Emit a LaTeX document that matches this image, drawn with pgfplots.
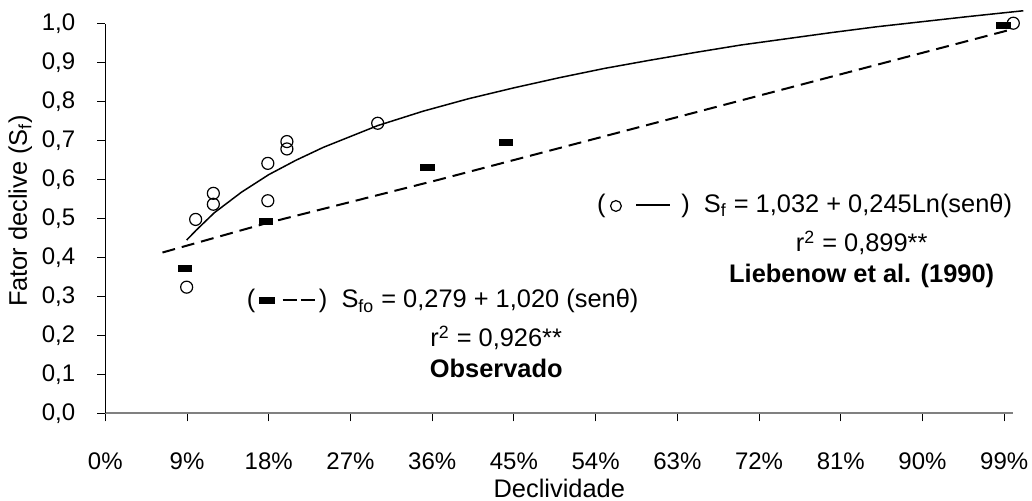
\documentclass[border=0pt]{standalone}
\usepackage{fontspec}
\setmainfont{Liberation Sans}
\usepackage{pgfplots}
\pgfplotsset{compat=1.18}

\pgfdeclareplotmark{hbar}{%
  \pgfpathrectangle{\pgfpoint{-3.6pt}{-1.75pt}}{\pgfpoint{7.2pt}{3.5pt}}%
  \pgfusepathqfill}

\newcommand{\lmark}{\tikz[baseline=-3.2pt]\draw[line width=0.6pt] (0,0) circle (2.7pt);}

\begin{document}
\begin{tikzpicture}[font=\fontsize{12.7}{15}\selectfont]
\begin{axis}[
    name=ax,
    scale only axis,
    width=454pt, height=194.65pt,
    xmin=0, xmax=1, ymin=0, ymax=1,
    axis lines=left,
    x axis line style={-, draw=gray, line width=0.8pt},
    y axis line style={-, draw=black, line width=0.6pt},
    tick align=outside,
    major tick length=4pt,
    tick style={black, line width=0.5pt},
    clip=false,
    xtick={0,0.09,0.18,0.27,0.36,0.45,0.54,0.63,0.72,0.81,0.9,0.99},
    xticklabels={0\%,9\%,18\%,27\%,36\%,45\%,54\%,63\%,72\%,81\%,90\%,99\%},
    ytick={0,0.1,...,1.0},
    /pgf/number format/assume math mode=true,
    tick label style={font=\fontsize{12}{14}\selectfont},
    xticklabel style={yshift=-12pt},
    yticklabel style={xshift=-7.5pt, /pgf/number format/.cd, fixed, fixed zerofill, precision=1, use comma},
    xlabel={Declividade},
    ylabel={Fator declive (S\textsubscript{f})},
    label style={font=\fontsize{12.7}{15}\selectfont},
    xlabel style={at={(axis description cs:0.5,-0.192)}, anchor=center, inner sep=0pt},
    ylabel style={at={(axis description cs:-0.0936,0.52)}, anchor=center, inner sep=0pt},
]

% ajuste observado (tracejado)
\addplot[black, line width=1pt, dash pattern=on 6.5pt off 3.5pt] coordinates {
    (0.063,0.413) (0.177,0.488) (0.369,0.601) (0.699,0.803) (0.998,0.986)
};

% ajuste Liebenow (continuo)
\addplot[black, line width=0.75pt] coordinates {
    (0.0896,0.445) (0.10,0.470) (0.12,0.515) (0.15,0.568) (0.18,0.613)
    (0.21,0.650) (0.24,0.683) (0.27,0.711) (0.30,0.739) (0.35,0.776)
    (0.40,0.808) (0.45,0.836) (0.50,0.862) (0.55,0.886) (0.60,0.907)
    (0.65,0.927) (0.70,0.946) (0.75,0.962) (0.80,0.978) (0.85,0.993)
    (0.90,1.006) (0.95,1.019) (1.011,1.034)
};

% Observado
\addplot[only marks, mark=hbar, black] coordinates {
    (0.088,0.373) (0.177,0.493) (0.355,0.632) (0.441,0.696) (0.989,0.997)
};

% Liebenow et al. (1990)
\addplot[only marks, mark=o, mark size=3pt, mark options={line width=0.6pt}, black] coordinates {
    (0.0896,0.324) (0.0995,0.498) (0.119,0.537) (0.119,0.565) (0.179,0.546)
    (0.179,0.642) (0.200,0.679) (0.200,0.698) (0.300,0.745) (1.000,1.002)
};

\node[anchor=west] at (axis cs:0.534,0.533)
  {(\,\lmark\ \ \rule[3.4pt]{17pt}{0.9pt}\,\ )\ \ S\textsubscript{f} = 1,032 + 0,245Ln(senθ)};
\node at (axis cs:0.833,0.4375) {r\textsuperscript{2} = 0,899**};
\node at (axis cs:0.833,0.353) {\bfseries Liebenow et al. (1990)};

\node[anchor=west] at (axis cs:0.148,0.288)
  {(\,\rule[1.8pt]{8pt}{3.5pt}\ \rule[3.4pt]{7pt}{0.9pt}\,\rule[3.4pt]{7pt}{0.9pt}\,)\ \ S\textsubscript{fo} = 0,279 + 1,020 (senθ)};
\node at (axis cs:0.4305,0.1934) {r\textsuperscript{2} = 0,926**};
\node at (axis cs:0.4305,0.1164) {\bfseries Observado};

\end{axis}
\pgfresetboundingbox
\path (ax.south west) ++(-52.65pt,-43.85pt) rectangle ++(516pt,250.5pt);
\end{tikzpicture}
\end{document}
